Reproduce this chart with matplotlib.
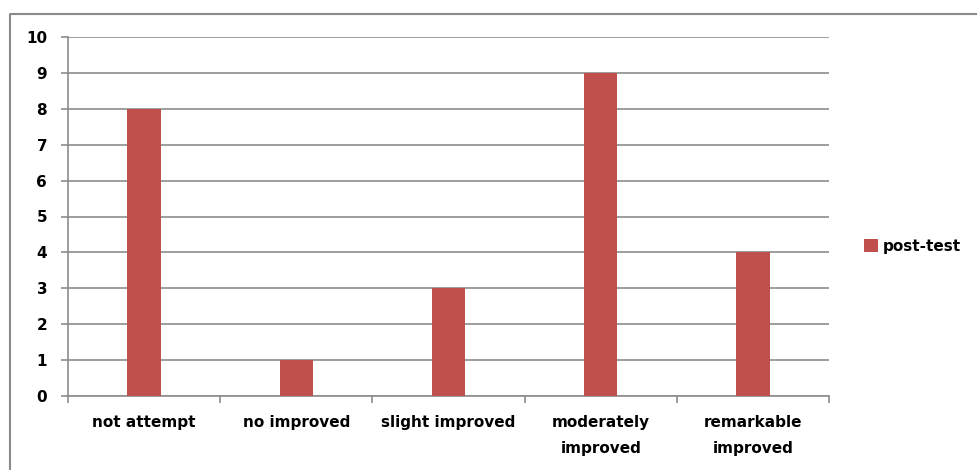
import matplotlib
matplotlib.use("Agg")
import matplotlib.pyplot as plt
from matplotlib.lines import Line2D
from matplotlib import font_manager

categories = ["not attempt", "no improved", "slight improved", "moderately\nimproved", "remarkable\nimproved"]
post_test = [8, 1, 3, 9, 4]
series_name = "post-test"
yticks = list(range(0, 11))

names = {f.name for f in font_manager.fontManager.ttflist}
fam = "Liberation Sans Narrow" if "Liberation Sans Narrow" in names else "DejaVu Sans"
plt.rcParams['font.family'] = [fam, "DejaVu Sans"]

W, H = 978, 470
fig = plt.figure(figsize=(W/100, H/100), dpi=100)
# outer chart frame: only top and left edges visible in the crop
fig.lines.append(Line2D([10/W, 10/W, 1.0], [0, 1-14/H, 1-14/H], transform=fig.transFigure,
                        color="#8a8a8a", linewidth=1.5))

ax = fig.add_axes([68/W, 1-396/H, (829-68)/W, (396-37)/H])
x = list(range(len(categories)))
ax.bar(x, post_test, width=0.22, color="#C0504D", zorder=3, label=series_name)
ax.set_xlim(-0.5, len(categories)-0.5)
ax.set_ylim(0, 10)
ax.set_yticks(yticks)
ax.set_yticklabels([str(v) for v in yticks], fontsize=11, fontweight="bold")
ax.yaxis.grid(True, color="#8c8c8c", linewidth=1.2, zorder=0)
ax.set_xticks([i - 0.5 for i in range(len(categories)+1)])
ax.set_xticklabels([])
ax.set_xticks(x, minor=True)
ax.set_xticklabels(categories, minor=True, fontsize=11, fontweight="bold", linespacing=1.9)
ax.tick_params(axis="x", which="minor", length=0, pad=14)
ax.tick_params(axis="x", which="major", length=5, color="#8c8c8c", width=1.2)
ax.tick_params(axis="y", length=5, color="#8c8c8c", width=1.2, pad=10)
for s in ["top", "right"]:
    ax.spines[s].set_visible(False)
for s in ["left", "bottom"]:
    ax.spines[s].set_color("#8c8c8c")
    ax.spines[s].set_linewidth(1.2)
for lab in ax.get_xticklabels(minor=True):
    lab.set_verticalalignment("top")

fig.legend(loc="center left", bbox_to_anchor=(858/W, 1-246/H), frameon=False,
           prop={"weight": "bold", "size": 11}, handlelength=0.9, handleheight=0.9,
           handletextpad=0.3, borderaxespad=0)

fig.savefig("out.png", dpi=100)
